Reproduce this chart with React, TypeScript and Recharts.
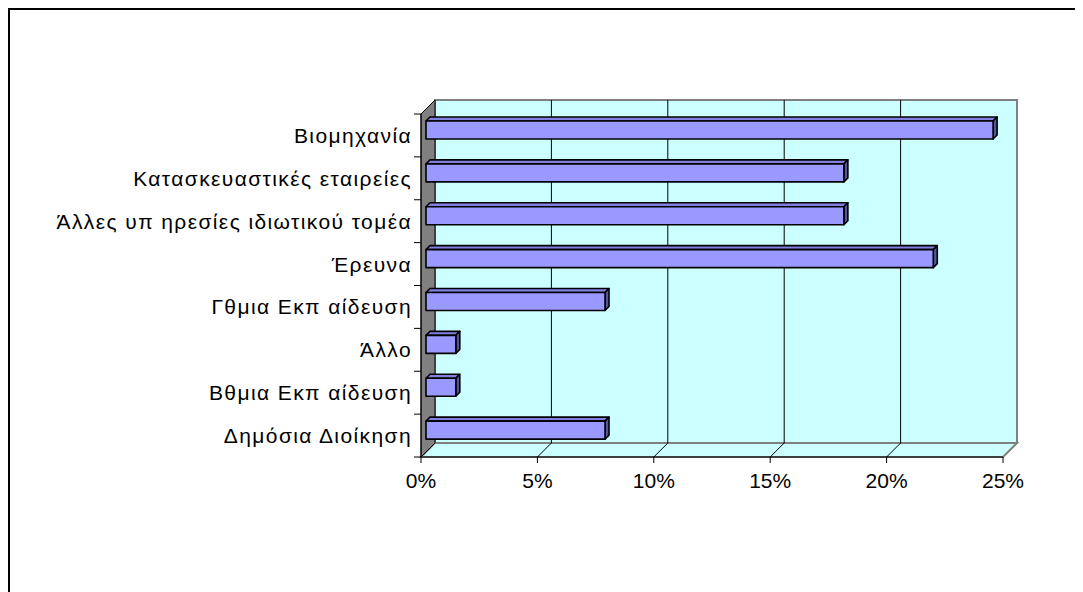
import React from "react"
import {
  BarChart,
  Bar,
  XAxis,
  YAxis,
  CartesianGrid,
  ReferenceArea,
} from "recharts"

// sectors, top to bottom as drawn
const categories = [
  "Βιομηχανία",
  "Κατασκευαστικές εταιρείες",
  "Άλλες υπ ηρεσίες ιδιωτικού τομέα",
  "Έρευνα",
  "Γθμια Εκπ αίδευση",
  "Άλλο",
  "Βθμια Εκπ αίδευση",
  "Δημόσια Διοίκηση",
]
const shares = [24.36, 17.95, 17.95, 21.79, 7.69, 1.28, 1.28, 7.69]
const xTicks = [0, 5, 10, 15, 20, 25]

const data = categories.map((name, i) => ({ name, value: shares[i] }))

const W = 1073
const H = 582
const margin = { top: 104, right: 80, bottom: 95, left: 11 }
const Y_AXIS_W = 400
const X_AXIS_H = 40
const PLOT_LEFT = margin.left + Y_AXIS_W
const PLOT_RIGHT = W - margin.right

const DEPTH = 14 // wall depth
const SHIFT = 5 // bar offset into the depth
const BAR_D = 4 // bar thickness in depth

const font = "Arial, 'Liberation Sans', sans-serif"

function Walls(props: any) {
  const { x, y, width: w, height: h } = props
  const d = DEPTH
  const n = categories.length
  return (
    <g>
      <rect x={x + d} y={y - d} width={w} height={h} fill="#CCFFFF" stroke="#808080" strokeWidth={2} />
      <polygon
        points={`${x},${y + h} ${x + d},${y + h - d} ${x + w + d},${y + h - d} ${x + w},${y + h}`}
        fill="#CCFFFF"
        stroke="#808080"
        strokeWidth={2}
      />
      <polygon
        points={`${x},${y} ${x + d},${y - d} ${x + d},${y + h - d} ${x},${y + h}`}
        fill="#808080"
        stroke="#000"
        strokeWidth={1}
      />
      {Array.from({ length: n + 1 }, (_, i) => (
        <line key={i} x1={x - 7} y1={y + (i * h) / n} x2={x} y2={y + (i * h) / n} stroke="#000" />
      ))}
    </g>
  )
}

function gridLine(props: any) {
  const { x1, y1, y2, key } = props
  if (x1 <= PLOT_LEFT + 1 || x1 >= PLOT_RIGHT - 1) return <g key={key} />
  return (
    <g key={key}>
      <line x1={x1 + DEPTH} y1={y1 - DEPTH} x2={x1 + DEPTH} y2={y2 - DEPTH} stroke="#000" strokeWidth={1} />
      <line x1={x1} y1={y2} x2={x1 + DEPTH} y2={y2 - DEPTH} stroke="#000" strokeWidth={1} />
    </g>
  )
}

function Bar3D(props: any) {
  const { x, y, width: w, height: h } = props
  const fx = x + SHIFT
  const fy = y - SHIFT
  const b = BAR_D
  return (
    <g stroke="#000" strokeWidth={1.6} strokeLinejoin="round">
      <polygon points={`${fx},${fy} ${fx + b},${fy - b} ${fx + w + b},${fy - b} ${fx + w},${fy}`} fill="#8080E0" />
      <polygon
        points={`${fx + w},${fy} ${fx + w + b},${fy - b} ${fx + w + b},${fy + h - b} ${fx + w},${fy + h}`}
        fill="#555599"
      />
      <rect x={fx} y={fy} width={w} height={h} fill="#9999FF" />
    </g>
  )
}

export default function App() {
  return (
    <div
      style={{
        width: W,
        height: H,
        borderTop: "2px solid #000",
        borderLeft: "2px solid #000",
        background: "#fff",
        fontFamily: font,
      }}
    >
      <BarChart width={W} height={H} data={data} layout="vertical" margin={margin} barSize={18}>
        <ReferenceArea x1={0} x2={25} shape={(p: any) => <Walls {...p} />} zIndex={-200} ifOverflow="visible" />
        <CartesianGrid horizontal={false} vertical={gridLine} />
        <XAxis
          type="number"
          domain={[0, 25]}
          ticks={xTicks}
          tickFormatter={(v: number) => `${v}%`}
          height={X_AXIS_H}
          axisLine={{ stroke: "#000" }}
          tickLine={{ stroke: "#000" }}
          tickSize={6}
          tickMargin={10}
          tick={{ fontSize: 21, fill: "#000", fontFamily: font }}
        />
        <YAxis
          type="category"
          dataKey="name"
          width={Y_AXIS_W}
          axisLine={{ stroke: "#000" }}
          tickLine={false}
          tickSize={7}
          tickMargin={2}
          interval={0}
          tick={{ fontSize: 21, fill: "#000", fontFamily: font, letterSpacing: 1.4 }}
        />
        <Bar dataKey="value" isAnimationActive={false} shape={(p: any) => <Bar3D {...p} />} />
      </BarChart>
    </div>
  )
}
